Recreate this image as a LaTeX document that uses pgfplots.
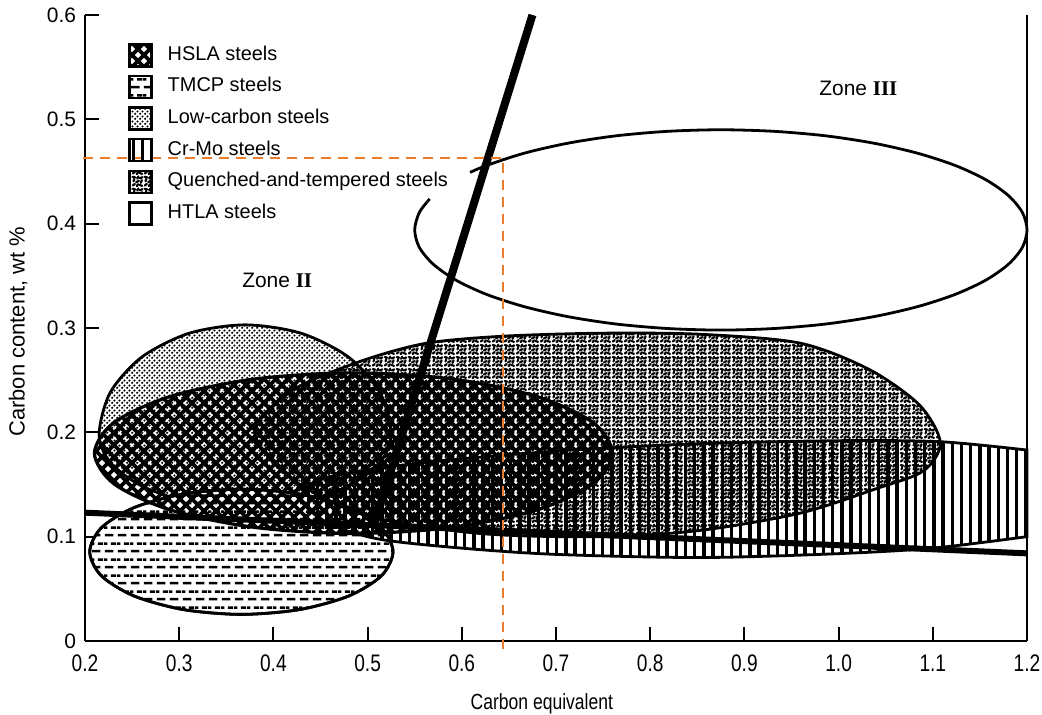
\documentclass[border=0pt]{standalone}
\usepackage{fontspec}
\setmainfont{Liberation Sans}
\newfontfamily\romfont{Liberation Serif}
\usepackage{pgfplots}
\pgfplotsset{compat=1.18}
\usetikzlibrary{patterns}

\pgfdeclarepatternformonly{hsla}{\pgfpoint{-1bp}{-1bp}}{\pgfpoint{7bp}{7bp}}{\pgfpoint{6bp}{6bp}}{%
 \pgfsetlinewidth{1.9bp}%
 \pgfpathmoveto{\pgfpoint{-1bp}{-1bp}}\pgfpathlineto{\pgfpoint{7bp}{7bp}}%
 \pgfpathmoveto{\pgfpoint{-1bp}{7bp}}\pgfpathlineto{\pgfpoint{7bp}{-1bp}}%
 \pgfusepath{stroke}}
\pgfdeclarepatternformonly{tmcp}{\pgfpoint{0bp}{0bp}}{\pgfpoint{6.5bp}{8bp}}{\pgfpoint{6.5bp}{8bp}}{%
 \pgfsetlinewidth{1.3bp}%
 \pgfpathmoveto{\pgfpoint{0.5bp}{2bp}}\pgfpathlineto{\pgfpoint{5bp}{2bp}}%
 \pgfpathmoveto{\pgfpoint{3.75bp}{6bp}}\pgfpathlineto{\pgfpoint{6.5bp}{6bp}}%
 \pgfpathmoveto{\pgfpoint{0bp}{6bp}}\pgfpathlineto{\pgfpoint{1.75bp}{6bp}}%
 \pgfusepath{stroke}}
\pgfdeclarepatternformonly{lowc}{\pgfpoint{0bp}{0bp}}{\pgfpoint{2.4bp}{2.4bp}}{\pgfpoint{2.4bp}{2.4bp}}{%
 \pgfpathcircle{\pgfpoint{0.6bp}{0.6bp}}{0.62bp}%
 \pgfpathcircle{\pgfpoint{1.8bp}{1.8bp}}{0.62bp}%
 \pgfusepath{fill}}
\pgfdeclarepatternformonly{crmo}{\pgfpoint{0bp}{-0.5bp}}{\pgfpoint{4.6bp}{2.5bp}}{\pgfpoint{4.6bp}{2bp}}{%
 \pgfsetlinewidth{1.7bp}%
 \pgfpathmoveto{\pgfpoint{2.3bp}{-0.5bp}}\pgfpathlineto{\pgfpoint{2.3bp}{2.5bp}}%
 \pgfusepath{stroke}}
\pgfdeclarepatternformonly{qt}{\pgfpoint{0bp}{0bp}}{\pgfpoint{6bp}{6bp}}{\pgfpoint{6bp}{6bp}}{%
 \pgfsetlinewidth{1.15bp}\pgfsetroundcap
 \pgfpathmoveto{\pgfpoint{0.4bp}{0.8bp}}\pgfpathlineto{\pgfpoint{1.5bp}{1.6bp}}%
 \pgfpathmoveto{\pgfpoint{2.5bp}{0.4bp}}\pgfpathlineto{\pgfpoint{3.2bp}{1.5bp}}%
 \pgfpathmoveto{\pgfpoint{4.0bp}{1.1bp}}\pgfpathlineto{\pgfpoint{5.4bp}{0.6bp}}%
 \pgfpathmoveto{\pgfpoint{0.8bp}{3.0bp}}\pgfpathlineto{\pgfpoint{1.2bp}{4.2bp}}%
 \pgfpathmoveto{\pgfpoint{2.2bp}{2.6bp}}\pgfpathlineto{\pgfpoint{3.6bp}{3.2bp}}%
 \pgfpathmoveto{\pgfpoint{4.6bp}{2.2bp}}\pgfpathlineto{\pgfpoint{5.2bp}{3.6bp}}%
 \pgfpathmoveto{\pgfpoint{0.4bp}{5.4bp}}\pgfpathlineto{\pgfpoint{1.8bp}{5.0bp}}%
 \pgfpathmoveto{\pgfpoint{2.8bp}{4.4bp}}\pgfpathlineto{\pgfpoint{3.4bp}{5.6bp}}%
 \pgfpathmoveto{\pgfpoint{4.2bp}{4.6bp}}\pgfpathlineto{\pgfpoint{5.6bp}{5.2bp}}%
 \pgfusepath{stroke}}

\definecolor{guide}{RGB}{234,125,44}
\newcommand\nx[1]{\scalebox{0.8}[1]{#1}}

\begin{document}
\begin{tikzpicture}
\begin{axis}[
  scale only axis, width=471bp, height=313bp,
  xmin=0.2, xmax=1.2, ymin=0, ymax=0.6,
  clip=false,
  axis x line*=bottom, axis y line*=left,
  axis line style={line width=1.2bp, black},
  xtick={0.2,0.3,0.4,0.5,0.6,0.7,0.8,0.9,1.0,1.1,1.2},
  xticklabels={\nx{0.2},\nx{0.3},\nx{0.4},\nx{0.5},\nx{0.6},\nx{0.7},\nx{0.8},\nx{0.9},\nx{1.0},\nx{1.1},\nx{1.2}},
  ytick={0,0.1,0.2,0.3,0.4,0.5,0.6},
  yticklabels={0,0.1,0.2,0.3,0.4,0.5,0.6},
  tick align=inside, major tick length=7bp,
  tick style={line width=1bp, black},
  xticklabel style={font=\fontsize{12}{14}\selectfont, yshift=-3.5bp},
  yticklabel style={font=\fontsize{10.5}{12}\selectfont, xshift=-1bp},
  xlabel={\nx{Carbon equivalent}},
  ylabel={Carbon content, wt \%},
  xlabel style={font=\fontsize{11}{13}\selectfont, at={(axis description cs:0.485,0)}, anchor=base, yshift=-34bp},
  ylabel style={font=\fontsize{11}{13}\selectfont, at={(axis description cs:-0.0711,0.494)}, anchor=center},
  legend image code/.code={\draw[#1] (0bp,-5.5bp) rectangle (11bp,5.5bp);},
  legend cell align=left,
  legend style={at={(axis description cs:0.0456,0.957)}, anchor=north west,
    draw=none, fill=none, font=\fontsize{10}{12}\selectfont,
    row sep=2.8bp, column sep=6bp, inner sep=0pt,
    nodes={inner sep=1.5bp, text height=7.5bp, text depth=2.5bp}},
]
% Low-carbon steels
\addplot[forget plot, draw=black, line width=1.4bp, pattern=lowc, smooth cycle] coordinates {
 (0.525,0.198) (0.5132,0.2382) (0.4796,0.2722) (0.4293,0.295) (0.37,0.303)
 (0.3107,0.295) (0.2604,0.2722) (0.2268,0.2382) (0.215,0.198) (0.2268,0.1712)
 (0.2604,0.1485) (0.3107,0.1333) (0.37,0.128) (0.4293,0.1333) (0.4796,0.1485) (0.5132,0.1712)};
% TMCP steels
\addplot[forget plot, draw=black, line width=1.4bp, preaction={fill=white}, pattern=tmcp, smooth cycle] coordinates {
 (0.527,0.0855) (0.5147,0.1085) (0.4798,0.1279) (0.4276,0.1409) (0.366,0.1455)
 (0.3044,0.1409) (0.2522,0.1279) (0.2173,0.1085) (0.205,0.0855) (0.2173,0.0625)
 (0.2522,0.0431) (0.3044,0.0301) (0.366,0.0255) (0.4276,0.0301) (0.4798,0.0431) (0.5147,0.0625)};
% Cr-Mo steels
\addplot[forget plot, draw=black, line width=1.4bp, pattern=crmo, smooth] coordinates {
 (1.2,0.1) (1.1,0.089) (0.994,0.0835) (0.853,0.08) (0.7,0.083) (0.6,0.089) (0.513,0.0975)
 (0.46,0.112) (0.43,0.135) (0.45,0.155) (0.55,0.17) (0.7,0.182) (0.85,0.189) (1.0,0.192)
 (1.108,0.191) (1.2,0.183)} -- cycle;
% Quenched-and-tempered steels
\addplot[forget plot, draw=black, line width=1.4bp, pattern=qt, smooth cycle] coordinates {
 (0.38,0.2) (0.42,0.24) (0.489,0.267) (0.56,0.285) (0.641,0.292) (0.747,0.295)
 (0.853,0.294) (0.959,0.2855) (1.033,0.26) (1.086,0.226) (1.108,0.19) (1.09,0.163)
 (1.04,0.146) (0.959,0.1225) (0.853,0.106) (0.75,0.1) (0.62,0.103) (0.5,0.12) (0.42,0.155)};
% HSLA steels
\addplot[forget plot, draw=black, line width=1.6bp, pattern=hsla, smooth cycle] coordinates {
 (0.76,0.18) (0.7391,0.2095) (0.6795,0.2344) (0.5902,0.2511) (0.485,0.257)
 (0.3798,0.2511) (0.2905,0.2344) (0.2309,0.2095) (0.21,0.18) (0.2309,0.1505)
 (0.2905,0.1256) (0.3798,0.1089) (0.485,0.103) (0.5902,0.1089) (0.6795,0.1256) (0.7391,0.1505)};
% HTLA steels (outline, broken where the legend text runs)
\addplot[forget plot, draw=black, line width=1.4bp, smooth] coordinates {
 (0.5659,0.4237) (0.5549,0.4107) (0.55,0.394) (0.5549,0.3773) (0.5696,0.3612)
 (0.5935,0.346) (0.626,0.3323) (0.6661,0.3205) (0.7125,0.3109) (0.7638,0.3038)
 (0.8186,0.2995) (0.875,0.298) (0.9314,0.2995) (0.9862,0.3038) (1.0375,0.3109)
 (1.0839,0.3205) (1.124,0.3323) (1.1565,0.346) (1.1804,0.3612) (1.1951,0.3773)
 (1.2,0.394) (1.1951,0.4107) (1.1804,0.4268) (1.1565,0.442) (1.124,0.4557)
 (1.0839,0.4675) (1.0375,0.4771) (0.9862,0.4842) (0.9314,0.4885) (0.875,0.49)
 (0.8186,0.4885) (0.7638,0.4842) (0.7125,0.4771) (0.6661,0.4675) (0.626,0.4557) (0.6088,0.4491)};
% zone boundaries
\addplot[forget plot, black, line width=3bp] coordinates {(0.2,0.123) (1.2,0.084)};
\addplot[forget plot, black, line width=4bp] coordinates {(0.507,0.112) (0.675,0.6)};
% orange guide
\addplot[forget plot, guide, line width=1.1bp, dash pattern=on 5bp off 3.5bp] coordinates {(0.198,0.463) (0.644,0.463) (0.644,-0.014)};

\addlegendimage{draw=black, line width=1.2bp, pattern=hsla}
\addlegendentry{HSLA steels}
\addlegendimage{draw=black, line width=1.2bp, pattern=tmcp}
\addlegendentry{TMCP steels}
\addlegendimage{draw=black, line width=1.2bp, pattern=lowc}
\addlegendentry{Low-carbon steels}
\addlegendimage{draw=black, line width=1.2bp, pattern=crmo}
\addlegendentry{Cr-Mo steels}
\addlegendimage{draw=black, line width=1.2bp, pattern=qt}
\addlegendentry{Quenched-and-tempered steels}
\addlegendimage{draw=black, line width=1.2bp}
\addlegendentry{HTLA steels}

\node[font=\fontsize{10.5}{12}\selectfont] at (axis cs:0.404,0.346) {Zone {\romfont\bfseries II}};
\node[font=\fontsize{10.5}{12}\selectfont] at (axis cs:1.021,0.53) {Zone {\romfont\bfseries III}};
\draw[line width=1bp, black] (rel axis cs:1,0) -- (rel axis cs:1,1);
\end{axis}
\pgfresetboundingbox
\path[use as bounding box] ([xshift=-42.5bp,yshift=-37bp]current axis.south west) rectangle ([xshift=7.5bp,yshift=7.5bp]current axis.north east);
\end{tikzpicture}
\end{document}
